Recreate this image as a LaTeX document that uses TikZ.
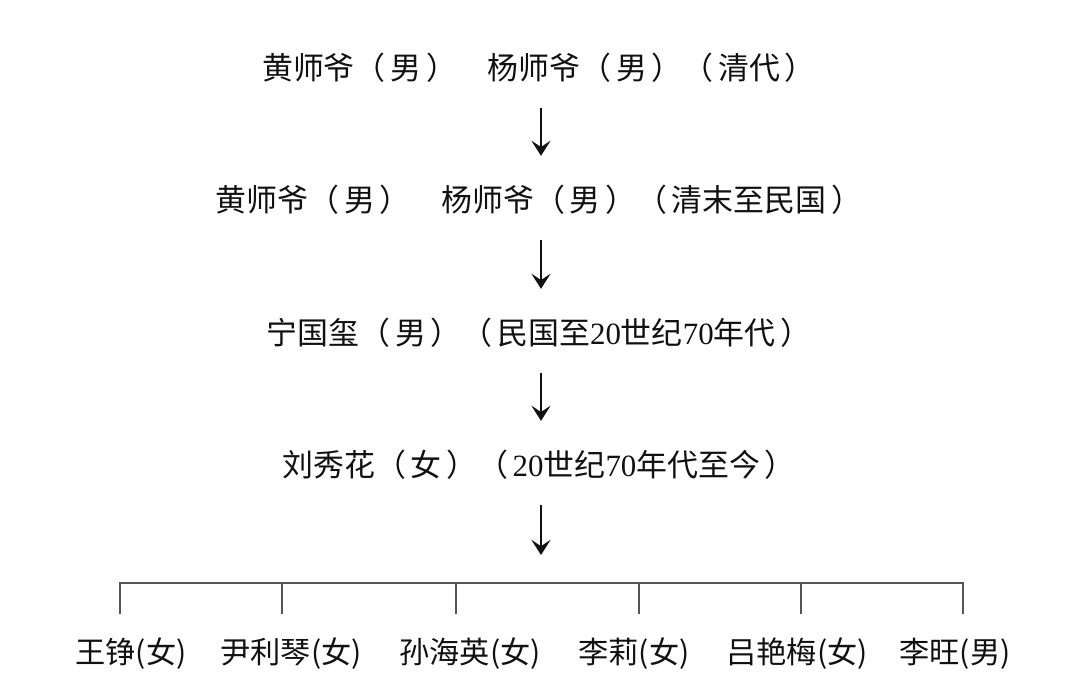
\documentclass[tikz,border=0pt]{standalone}
\usepackage{fontspec}
\setmainfont{Liberation Serif}
\newfontfamily\cjk{Noto Sans CJK SC}
\usetikzlibrary{arrows.meta,positioning}
\definecolor{ink}{HTML}{111111}
\definecolor{bargray}{HTML}{555555}
\tikzset{
  gen/.style={font=\cjk\fontsize{22}{26}\selectfont,text=ink,inner sep=0pt,
              text height=19.4pt,text depth=2.6pt},
  heir/.style={gen,font=\cjk\fontsize{21.5}{26}\selectfont},
  downarr/.style={-{Stealth[length=3.8mm,width=4.8mm,inset=1.6mm]},line width=1.3pt,
                  draw=ink,shorten <=6.1mm,shorten >=7.1mm},
  bar/.style={draw=bargray,line width=1.1pt}
}
\newcommand{\num}[1]{{\rmfamily #1}}
\newcommand{\pa}[1]{（\kern.15em#1\kern.15em）}
\begin{document}
\begin{tikzpicture}[x=0.025cm,y=-0.025cm]
  \useasboundingbox (0,0) rectangle (1080,694);
  % generations
  \node[gen] (gen1) at (539,68)  {黄师爷\pa{男}　杨师爷\pa{男}\pa{清代}};
  \node[gen] (gen2) at (539,200) {黄师爷\pa{男}　杨师爷\pa{男}\pa{清末至民国}};
  \node[gen] (gen3) at (539,333) {宁国玺\pa{男}\pa{民国至\num{20}世纪\num{70}年代}};
  \node[gen] (gen4) at (539,465) {刘秀花\pa{女}\pa{\num{20}世纪\num{70}年代至今}};
  \coordinate (kids) at (541,555);

  \draw[downarr] (gen1.south -| kids) -- (gen2.north -| kids);
  \draw[downarr] (gen2.south -| kids) -- (gen3.north -| kids);
  \draw[downarr] (gen3.south -| kids) -- (gen4.north -| kids);
  \draw[downarr,shorten >=0pt] (gen4.south -| kids) -- (kids);

  % heirs
  \foreach \i/\x/\t/\name in {1/120/131/王铮(女),2/282/291/尹利琴(女),3/456/470/孙海英(女),
                              4/639/634/李莉(女),5/801/797/吕艳梅(女),6/963/955/李旺(男)} {
    \node[heir] (c\i) at (\t,652) {\name};
    \coordinate (t\i) at (\x,614);
  }
  \coordinate (top) at (541,583);
  \draw[bar] (t1) -- (t1 |- top) -- (t6 |- top) -- (t6);
  \foreach \i in {2,...,5} {
    \draw[bar] (t\i) -- (t\i |- top);
  }
\end{tikzpicture}
\end{document}
